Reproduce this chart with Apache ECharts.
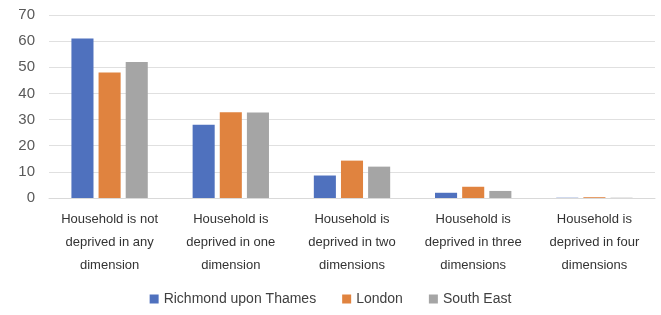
<!DOCTYPE html>
<html>
<head>
<meta charset="utf-8">
<script src="https://cdn.jsdelivr.net/npm/echarts@6/dist/echarts.min.js"></script>
<style>
  html, body { margin: 0; padding: 0; background: #fff; }
  #chart { width: 661px; height: 315px; }
</style>
</head>
<body>
<div id="chart"></div>
<script>
  var categories = [
    'Household is not\ndeprived in any\ndimension',
    'Household is\ndeprived in one\ndimension',
    'Household is\ndeprived in two\ndimensions',
    'Household is\ndeprived in three\ndimensions',
    'Household is\ndeprived in four\ndimensions'
  ]
  var richmond = [61, 28, 8.6, 2, 0.1]
  var london = [48, 32.8, 14.3, 4.3, 0.3]
  var southEast = [52, 32.7, 12, 2.7, 0.1]
  var yTicks = [0, 10, 20, 30, 40, 50, 60, 70]

  var font = 'Liberation Sans, Arial, sans-serif'
  var chart = echarts.init(document.getElementById('chart'))

  chart.setOption({
    animation: false,
    textStyle: { fontFamily: font },
    color: ['#4F71BE', '#E0833F', '#A5A5A5'],
    grid: { left: 49, right: 6, top: 15, bottom: 117 },
    legend: {
      bottom: 4,
      itemWidth: 9,
      itemHeight: 9,
      itemGap: 26,
      icon: 'rect',
      textStyle: { fontSize: 14, color: '#404040', fontFamily: font },
      data: ['Richmond upon Thames', 'London', 'South East']
    },
    xAxis: {
      type: 'category',
      data: categories,
      axisLine: { lineStyle: { color: '#d9d9d9' } },
      axisTick: { show: false },
      axisLabel: {
        color: '#333',
        fontSize: 13,
        lineHeight: 23,
        margin: 10,
        interval: 0
      }
    },
    yAxis: {
      type: 'value',
      min: yTicks[0],
      max: yTicks[yTicks.length - 1],
      interval: 10,
      axisLine: { show: false },
      axisTick: { show: false },
      splitLine: { lineStyle: { color: '#e0e0e0' } },
      axisLabel: { color: '#595959', fontSize: 15, margin: 14 }
    },
    series: [
      { name: 'Richmond upon Thames', type: 'bar', data: richmond, barGap: '23%', barCategoryGap: '37%' },
      { name: 'London', type: 'bar', data: london },
      { name: 'South East', type: 'bar', data: southEast }
    ]
  })
</script>
</body>
</html>
